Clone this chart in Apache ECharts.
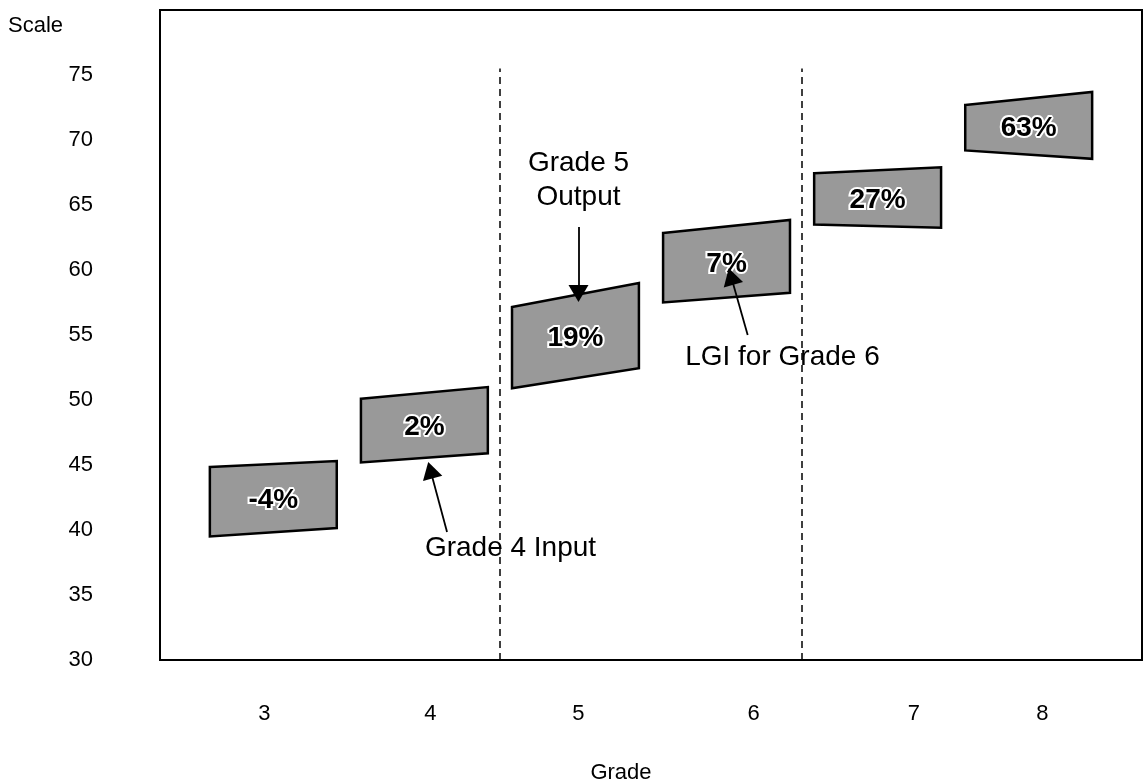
<!DOCTYPE html>
<html>
<head>
<meta charset="utf-8">
<script src="https://cdn.jsdelivr.net/npm/echarts@6/dist/echarts.min.js"></script>
<style>html,body{margin:0;padding:0;background:#fff}#c{width:1147px;height:781px}</style>
</head>
<body>
<div id="c"></div>
<script>
// ---- data ----
const grades = [3, 4, 5, 6, 7, 8];
const gradeLabels = ['3', '4', '5', '6', '7', '8'];
const labelPositions = [2.94, 4.04, 5.02, 6.18, 7.24, 8.09];
const leftLow = [39.5, 45.2, 50.9, 57.5, 63.5, 69.2];
const leftHigh = [44.85, 50.1, 57.15, 62.85, 67.45, 72.7];
const rightLow = [40.15, 45.9, 52.45, 58.25, 63.25, 68.55];
const rightHigh = [45.3, 51.0, 59.0, 63.85, 67.9, 73.7];
const growth = ['-4%', '2%', '19%', '7%', '27%', '63%'];
const yTicks = [30, 35, 40, 45, 50, 55, 60, 65, 70, 75];
const dividers = [4.5, 6.5];
const annotations = [
  { text: 'Grade 5', x: 5.02, y: 68.23 },
  { text: 'Output', x: 5.02, y: 65.62 },
  { text: 'LGI for Grade 6', x: 6.37, y: 53.31 },
  { text: 'Grade 4 Input', x: 4.57, y: 38.62 }
];
const arrows = [
  { from: [5.02, 63.3], to: [5.02, 58.2] },
  { from: [6.14, 55.0], to: [6.03, 59.5] },
  { from: [4.15, 39.85], to: [4.04, 44.6] }
];

const FONT = '"Liberation Sans", Arial, sans-serif';
const halfW = 0.42;

const boxData = grades.map((g, i) => [g, leftLow[i], leftHigh[i], rightLow[i], rightHigh[i], growth[i]]);

const markLineData = [];
dividers.forEach(d => {
  markLineData.push([
    { coord: [d, 30], symbol: 'none', lineStyle: { type: [7, 5], width: 1.5, color: '#000' } },
    { coord: [d, 75.5], symbol: 'none' }
  ]);
});
arrows.forEach(a => {
  markLineData.push([
    { coord: a.from, symbol: 'none', lineStyle: { type: 'solid', width: 1.8, color: '#000' } },
    { coord: a.to, symbol: 'triangle', symbolSize: [20, 17] }
  ]);
});

const chart = echarts.init(document.getElementById('c'), null, { renderer: 'canvas' });
chart.setOption({
  animation: false,
  backgroundColor: '#fff',
  textStyle: { fontFamily: FONT },
  grid: { left: 160, right: 5, top: 10, bottom: 121, show: true, borderColor: '#000', borderWidth: 2, backgroundColor: 'transparent', outerBoundsMode: 'none', containLabel: false },
  graphic: [
    { type: 'text', left: 8, top: 15, style: { text: 'Scale', font: '22px ' + FONT, fill: '#000' } }
  ],
  xAxis: {
    type: 'value', min: 2.25, max: 8.75,
    splitLine: { show: false }, axisLine: { show: false }, axisTick: { show: false },
    axisLabel: {
      customValues: labelPositions,
      formatter: function (v) {
        let best = 0, bd = 1e9;
        labelPositions.forEach((p, i) => { const d = Math.abs(p - v); if (d < bd) { bd = d; best = i; } });
        return gradeLabels[best];
      },
      margin: 43, fontSize: 22, color: '#000', fontFamily: FONT
    },
    name: 'Grade', nameLocation: 'middle', nameGap: 102,
    nameTextStyle: { fontSize: 22, color: '#000', fontFamily: FONT, padding: [0, 60, 0, 0] }
  },
  yAxis: {
    type: 'value', min: 30, max: 80,
    splitLine: { show: false }, axisLine: { show: false }, axisTick: { show: false },
    axisLabel: { customValues: yTicks, margin: 67, fontSize: 22, color: '#000', fontFamily: FONT, padding: [7, 0, 0, 0] }
  },
  series: [
    {
      type: 'custom',
      data: boxData,
      encode: { x: 0, y: [1, 2, 3, 4] },
      renderItem: function (params, api) {
        const g = api.value(0);
        const tl = api.coord([g - halfW, api.value(2)]);
        const bl = api.coord([g - halfW, api.value(1)]);
        const tr = api.coord([g + halfW, api.value(4)]);
        const br = api.coord([g + halfW, api.value(3)]);
        const cx = (tl[0] + tr[0]) / 2;
        const cy = (tl[1] + tr[1] + bl[1] + br[1]) / 4;
        return {
          type: 'group',
          children: [
            {
              type: 'polygon',
              shape: { points: [tl, tr, br, bl] },
              style: { fill: '#999999', stroke: '#000', lineWidth: 2.5 }
            },
            {
              type: 'text',
              x: cx, y: cy + 2,
              style: {
                text: boxData[params.dataIndex][5],
                font: 'bold 28px ' + FONT,
                fill: '#000', stroke: '#fff', lineWidth: 4,
                align: 'center', verticalAlign: 'middle'
              }
            }
          ]
        };
      },
      z: 3
    },
    {
      type: 'scatter',
      data: annotations.map(a => [a.x, a.y, a.text]),
      symbolSize: 0,
      itemStyle: { opacity: 1 },
      label: {
        show: true, position: 'inside',
        formatter: p => p.data[2],
        fontSize: 28, color: '#000', opacity: 1, fontFamily: FONT
      },
      markLine: {
        silent: true, animation: false,
        label: { show: false },
        symbol: ['none', 'none'],
        data: markLineData
      },
      z: 4
    }
  ]
});
</script>
</body>
</html>
